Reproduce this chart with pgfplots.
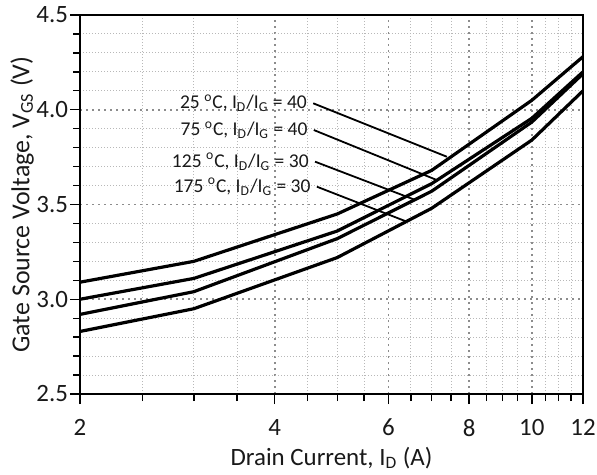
\documentclass[border=0pt]{standalone}
\usepackage{fontspec}
\setmainfont{Carlito}
\usepackage{pgfplots}
\pgfplotsset{compat=1.18}
\begin{document}
\begin{tikzpicture}
\begin{axis}[name=ax, scale only axis, width=251.5bp, height=189.5bp,
  xmode=log, xmin=2, xmax=12, ymin=2.5, ymax=4.5,
  xtick={2,4,6,8,10,12}, xticklabels={2,4,6,8,10,12},
  minor xtick={2.5,3,3.5,4.5,5,5.5,6.5,7,7.5,8.5,9,9.5,10.5,11,11.5},
  ytick={2.5,3,3.5,4,4.5},
  yticklabels={2.5,3.0,3.5,4.0,4.5},
  minor ytick={2.6,2.7,2.8,2.9,3.1,3.2,3.3,3.4,3.6,3.7,3.8,3.9,4.1,4.2,4.3,4.4},
  /pgf/number format/assume math mode=true,
  grid=both,
  major grid style={black!45, line width=0.9bp, dash pattern=on 0.9bp off 2.1bp},
  minor grid style={black!28, line width=0.45bp, dash pattern=on 0.45bp off 1.05bp},
  tick align=outside, tick pos=left,
  major tick length=5bp, minor tick length=3.5bp,
  every tick/.style={black, line width=0.7bp},
  axis line style={black, line width=0.9bp},
  tick label style={font=\fontsize{12.5}{14}\selectfont, text=black!90},
  x tick label style={yshift=-4bp},
  y tick label style={xshift=2.5bp},
  xlabel={Drain Current, I\textsubscript{D} (A)},
  ylabel={Gate Source Voltage, V\textsubscript{GS} (V)},
  xlabel style={font=\fontsize{12.5}{14}\selectfont, text=black!90, at={(axis description cs:0.5,-0.169)}, anchor=center},
  ylabel style={font=\fontsize{13}{15}\selectfont, text=black!90, at={(axis description cs:-0.1153,0.5)}, anchor=center},
]
% curves
\addplot[black, line width=1.6bp] coordinates {(2,3.09)(3,3.20)(5,3.45)(7,3.68)(10,4.05)(12,4.28)};
\addplot[black, line width=1.6bp] coordinates {(2,3.00)(3,3.11)(5,3.36)(7,3.61)(10,3.955)(12,4.20)};
\addplot[black, line width=1.6bp] coordinates {(2,2.92)(3,3.04)(5,3.32)(7,3.57)(10,3.935)(12,4.19)};
\addplot[black, line width=1.6bp] coordinates {(2,2.83)(3,2.95)(5,3.22)(7,3.48)(10,3.84)(12,4.10)};
% leader lines
\addplot[black, line width=0.9bp] coordinates {(4.59,4.034)(7.39,3.752)};
\addplot[black, line width=0.9bp] coordinates {(4.60,3.893)(7.13,3.629)};
\addplot[black, line width=0.9bp] coordinates {(4.62,3.726)(6.60,3.524)};
\addplot[black, line width=0.9bp] coordinates {(4.65,3.594)(6.41,3.409)};
% labels
\begin{scope}[every node/.style={anchor=east, font=\fontsize{9.8}{12}\selectfont, text=black!90, inner sep=3bp}]
\node at (axis cs:4.59,4.034) {25 \textsuperscript{o}C, I\textsubscript{D}/I\textsubscript{G} = 40};
\node at (axis cs:4.60,3.893) {75 \textsuperscript{o}C, I\textsubscript{D}/I\textsubscript{G} = 40};
\node at (axis cs:4.62,3.726) {125 \textsuperscript{o}C, I\textsubscript{D}/I\textsubscript{G} = 30};
\node at (axis cs:4.65,3.594) {175 \textsuperscript{o}C, I\textsubscript{D}/I\textsubscript{G} = 30};
\end{scope}
\end{axis}
\pgfresetboundingbox
\path (ax.south west) ++(-40bp,-40.5bp) rectangle ([shift={(7bp,7.5bp)}]ax.north east);
\end{tikzpicture}
\end{document}
